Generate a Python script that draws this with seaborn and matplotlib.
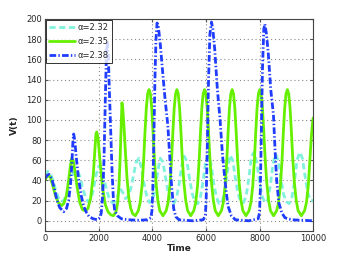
import matplotlib
matplotlib.use("Agg")
import matplotlib.pyplot as plt
import pandas as pd
import seaborn as sns

# alpha = 2.32 (cyan, dashed)
t_a = [0, 100, 200, 300, 400, 500, 600, 700, 800, 900, 1000, 1100, 1200, 1300, 1400,
       1500, 1600, 1700, 1800, 1900, 2000, 2100, 2200, 2300, 2400, 2500, 2600, 2700,
       2800, 2900, 3000, 3100, 3200, 3300, 3400, 3500, 3600, 3700, 3800, 3900, 4000,
       4100, 4200, 4300, 4400, 4500, 4600, 4700, 4800, 4900, 5000, 5100, 5200, 5300,
       5400, 5500, 5600, 5700, 5800, 5900, 6000, 6100, 6200, 6300, 6400, 6500, 6600,
       6700, 6800, 6900, 7000, 7100, 7200, 7300, 7400, 7500, 7600, 7700, 7800, 7900,
       8000, 8100, 8200, 8300, 8400, 8500, 8600, 8700, 8800, 8900, 9000, 9100, 9200,
       9300, 9400, 9500, 9600, 9700, 9800, 9900, 10000]
v_a = [45, 49, 47, 40, 30, 23, 19, 20, 26, 35, 44, 50, 50, 44, 33,
       24, 19, 21, 30, 45, 54, 52, 42, 30, 22, 18, 19, 24,
       32, 28, 22, 24, 32, 45, 58, 62, 52, 36, 24, 18, 20,
       30, 48, 62, 58, 42, 27, 19, 17, 22, 36, 55, 64, 58, 40,
       26, 18, 17, 24, 40, 60, 65, 55, 36, 23, 17, 18,
       28, 48, 65, 60, 42, 27, 19, 18, 24, 42, 64, 68, 58,
       38, 24, 18, 20, 34, 56, 66, 60, 42, 26, 19, 17,
       22, 38, 60, 68, 62, 44, 28, 20, 20]

# alpha = 2.35 (green, solid)
t_b = [0, 50, 120, 200, 300, 400, 500, 620, 700, 800, 880, 950, 1000, 1050, 1100,
       1200, 1300, 1400, 1500, 1600, 1700, 1800, 1850, 1900, 1930, 1980, 2050, 2150,
       2250, 2350, 2450, 2550, 2650, 2710, 2760, 2800, 2830, 2850, 2870, 2900, 2950,
       3000, 3060, 3130, 3200, 3270, 3370,
       3480, 3550, 3620, 3680, 3730, 3780, 3830, 3880, 3930, 3980, 4030, 4080, 4140, 4210, 4280, 4400,
       4520, 4590, 4660, 4720, 4770, 4820, 4870, 4920, 4970, 5020, 5070, 5120, 5180, 5250, 5320, 5435,
       5550, 5620, 5690, 5750, 5800, 5850, 5900, 5950, 6000, 6050, 6100, 6150, 6210, 6280, 6350, 6465,
       6580, 6650, 6720, 6780, 6830, 6880, 6930, 6980, 7030, 7080, 7130, 7180, 7240, 7310, 7380, 7495,
       7610, 7680, 7750, 7810, 7860, 7910, 7960, 8010, 8060, 8110, 8160, 8210, 8270, 8340, 8410, 8525,
       8640, 8710, 8780, 8840, 8890, 8940, 8990, 9040, 9090, 9140, 9190, 9240, 9300, 9370, 9440, 9560,
       9680, 9750, 9820, 9880, 9930, 9970, 10000]
v_b = [40, 43, 45, 43, 34, 24, 18, 15, 17, 25, 40, 55, 62, 60, 52,
       33, 18, 11, 10, 12, 22, 45, 65, 86, 88, 82, 60, 32,
       16, 9, 6, 5, 9, 18, 35, 60, 85, 105, 117, 112, 92,
       68, 42, 22, 12, 7, 5,
       10, 18, 35, 60, 88, 112, 126, 130, 126, 112, 88, 62, 38, 20, 10, 5,
       10, 18, 35, 60, 88, 112, 126, 130, 126, 112, 88, 62, 38, 20, 10, 5,
       10, 18, 35, 60, 88, 112, 126, 130, 126, 112, 88, 62, 38, 20, 10, 5,
       10, 18, 35, 60, 88, 112, 126, 130, 126, 112, 88, 62, 38, 20, 10, 5,
       10, 18, 35, 60, 88, 112, 126, 130, 126, 112, 88, 62, 38, 20, 10, 5,
       10, 18, 35, 60, 88, 112, 126, 130, 126, 112, 88, 62, 38, 20, 10, 5,
       10, 18, 35, 60, 82, 95, 102]

# alpha = 2.38 (blue, dash-dot)
t_c = [0, 80, 150, 250, 350, 450, 550, 700, 800, 880, 950, 1000, 1040, 1070, 1110,
       1170, 1250, 1350, 1450, 1550, 1650, 1800, 1950, 2050, 2100, 2150, 2200, 2250,
       2290, 2320, 2360, 2400, 2450, 2500, 2550, 2600, 2700, 2850, 3100, 3500, 3800,
       3950, 3990, 4020, 4060, 4100, 4140, 4180, 4230, 4300, 4380, 4480, 4580, 4650,
       4720, 4800, 4880, 5000, 5500, 5900, 5980, 6010, 6050, 6100, 6150, 6210, 6260,
       6330, 6430, 6530, 6620, 6720, 6820, 6950, 7100, 7600, 7950, 8000, 8030, 8070,
       8110, 8160, 8200, 8260, 8330, 8420, 8520, 8580, 8640, 8720, 8830, 8950, 9200,
       10000]
v_c = [42, 45, 46, 42, 32, 20, 13, 9, 12, 20, 35, 55, 78, 86, 80,
       62, 42, 25, 14, 8, 4, 2, 1, 3, 8, 25, 60, 120,
       165, 178, 165, 130, 90, 50, 22, 10, 5, 2, 1, 0.5, 1,
       3, 10, 30, 80, 140, 180, 196, 192, 175, 150, 120, 95, 65,
       35, 12, 4, 1, 0, 1, 5, 20, 70, 140, 185, 197, 190,
       170, 130, 100, 65, 38, 15, 5, 1, 0, 2, 8, 30, 90,
       150, 190, 195, 185, 165, 130, 105, 70, 40, 18, 8, 3, 1,
       0]

labels = ["\u03b1=2.32", "\u03b1=2.35", "\u03b1=2.38"]
colors = ["#80f2dc", "#66f000", "#1f3cff"]

df_a = pd.DataFrame({"Time": t_a, "V": v_a})
df_b = pd.DataFrame({"Time": t_b, "V": v_b})
df_c = pd.DataFrame({"Time": t_c, "V": v_c})

sns.set_style("white")
plt.rcParams["font.family"] = ["DejaVu Sans"]

fig = plt.figure(figsize=(3.46, 2.6), dpi=100)
ax = fig.add_axes([0.130, 0.112, 0.775, 0.815])

sns.lineplot(data=df_a, x="Time", y="V", ax=ax, color=colors[0], lw=2,
             label=labels[0], sort=False)
sns.lineplot(data=df_b, x="Time", y="V", ax=ax, color=colors[1], lw=2,
             label=labels[1], sort=False)
sns.lineplot(data=df_c, x="Time", y="V", ax=ax, color=colors[2], lw=2,
             label=labels[2], sort=False)
ax.lines[0].set_dashes((2.2, 1.3))
ax.lines[2].set_dashes((2.4, 0.8, 0.5, 0.8))

ax.set_xlim(0, 10000)
ax.set_ylim(-10, 200)
ax.set_xticks(range(0, 10001, 2000))
ax.set_yticks(range(0, 201, 20))
ax.set_axisbelow(True)
ax.xaxis.grid(True, linestyle=(0, (1, 2.5)), color="#8a8a8a", lw=0.8)
ax.yaxis.grid(True, linestyle=(0, (1, 2.5)), color="#8a8a8a", lw=0.8)
ax.tick_params(direction="in", labelsize=6, length=2.5, bottom=True, left=True,
               top=True, right=True, pad=2, color="#555555")
for s in ax.spines.values():
    s.set_color("#444444")
    s.set_linewidth(0.8)
ax.set_xlabel("Time", fontsize=6.5, fontweight="bold", labelpad=1)
ax.set_ylabel("V(t)", fontsize=6.5, fontweight="bold", labelpad=5)

leg = ax.legend(loc="upper left", fontsize=6, frameon=True, fancybox=False,
                handlelength=3.2, borderpad=0.35, labelspacing=0.6,
                handletextpad=0.3, borderaxespad=0.1)
leg.get_frame().set_edgecolor("black")
leg.get_frame().set_linewidth(0.7)
for h in leg.get_lines():
    h.set_linewidth(2)
leg.get_lines()[0].set_dashes((2.2, 1.3))
leg.get_lines()[2].set_dashes((2.4, 0.8, 0.5, 0.8))

fig.savefig("out.png", dpi=100)
